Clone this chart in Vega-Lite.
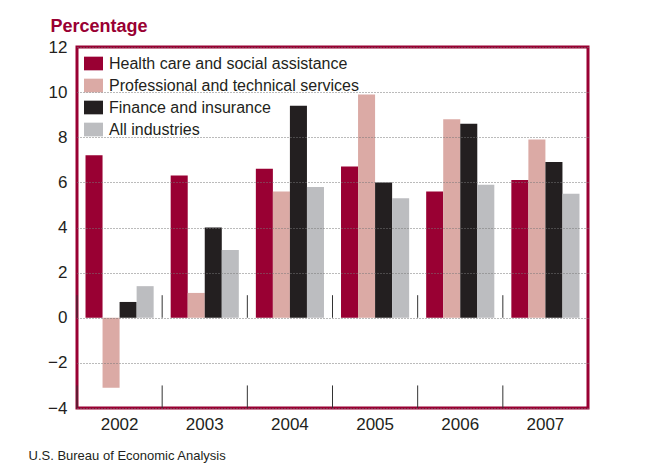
{
  "$schema": "https://vega.github.io/schema/vega-lite/v6.json",
  "width": 511,
  "height": 361,
  "autosize": {"type": "none"},
  "padding": {"left": 77, "top": 47, "right": 62, "bottom": 58},
  "background": "white",
  "config": {
    "view": {"stroke": "#990033", "strokeWidth": 3},
    "font": "Liberation Sans"
  },
  "datasets": {
    "bars": [
      {"year": "2002", "industry": "Health care and social assistance", "value": 7.2},
      {"year": "2002", "industry": "Professional and technical services", "value": -3.1},
      {"year": "2002", "industry": "Finance and insurance", "value": 0.7},
      {"year": "2002", "industry": "All industries", "value": 1.4},
      {"year": "2003", "industry": "Health care and social assistance", "value": 6.3},
      {"year": "2003", "industry": "Professional and technical services", "value": 1.1},
      {"year": "2003", "industry": "Finance and insurance", "value": 4.0},
      {"year": "2003", "industry": "All industries", "value": 3.0},
      {"year": "2004", "industry": "Health care and social assistance", "value": 6.6},
      {"year": "2004", "industry": "Professional and technical services", "value": 5.6},
      {"year": "2004", "industry": "Finance and insurance", "value": 9.4},
      {"year": "2004", "industry": "All industries", "value": 5.8},
      {"year": "2005", "industry": "Health care and social assistance", "value": 6.7},
      {"year": "2005", "industry": "Professional and technical services", "value": 9.9},
      {"year": "2005", "industry": "Finance and insurance", "value": 6.0},
      {"year": "2005", "industry": "All industries", "value": 5.3},
      {"year": "2006", "industry": "Health care and social assistance", "value": 5.6},
      {"year": "2006", "industry": "Professional and technical services", "value": 8.8},
      {"year": "2006", "industry": "Finance and insurance", "value": 8.6},
      {"year": "2006", "industry": "All industries", "value": 5.9},
      {"year": "2007", "industry": "Health care and social assistance", "value": 6.1},
      {"year": "2007", "industry": "Professional and technical services", "value": 7.9},
      {"year": "2007", "industry": "Finance and insurance", "value": 6.9},
      {"year": "2007", "industry": "All industries", "value": 5.5}
    ],
    "years": [
      {"year": "2002"}, {"year": "2003"}, {"year": "2004"},
      {"year": "2005"}, {"year": "2006"}, {"year": "2007"}
    ]
  },
  "layer": [
    {
      "data": {"name": "bars"},
      "mark": {"type": "bar"},
      "encoding": {
        "x": {
          "field": "year",
          "type": "nominal",
          "scale": {"type": "band", "paddingInner": 0, "paddingOuter": 0},
          "axis": {
            "labelAngle": 0,
            "labelFontSize": 17,
            "labelColor": "#231f20",
            "labelPadding": 8,
            "ticks": false,
            "domain": false,
            "grid": false,
            "title": "U.S. Bureau of Economic Analysis",
            "titleAnchor": "start",
            "titleAlign": "left",
            "titleX": -49,
            "titleY": 51,
            "titleBaseline": "alphabetic",
            "titleFontSize": 13,
            "titleFontWeight": "normal",
            "titleColor": "#231f20"
          }
        },
        "xOffset": {
          "field": "industry",
          "type": "nominal",
          "sort": ["Health care and social assistance", "Professional and technical services", "Finance and insurance", "All industries"],
          "scale": {"paddingInner": 0, "paddingOuter": 0.5}
        },
        "y": {
          "field": "value",
          "type": "quantitative",
          "scale": {"domain": [-4, 12], "nice": false},
          "axis": {
            "values": [-4, -2, 0, 2, 4, 6, 8, 10, 12],
            "labelFontSize": 17,
            "labelColor": "#231f20",
            "labelPadding": 10,
            "ticks": false,
            "domain": false,
            "grid": true,
            "gridDash": [1, 2],
            "gridColor": "#777777",
            "gridWidth": 1,
            "zindex": 1,
            "title": "Percentage",
            "titleAngle": 0,
            "titleAlign": "left",
            "titleBaseline": "alphabetic",
            "titleX": -27,
            "titleY": -16,
            "titleFontSize": 18,
            "titleFontWeight": "bold",
            "titleColor": "#990033"
          }
        },
        "color": {
          "field": "industry",
          "type": "nominal",
          "sort": ["Health care and social assistance", "Professional and technical services", "Finance and insurance", "All industries"],
          "scale": {
            "domain": ["Health care and social assistance", "Professional and technical services", "Finance and insurance", "All industries"],
            "range": ["#990033", "#dbaaa5", "#231f20", "#bcbdc0"]
          },
          "legend": {
            "title": null,
            "orient": "top-left",
            "offset": 7,
            "padding": 0,
            "symbolType": "M-1,-0.72H1V0.72H-1Z",
            "symbolSize": 361,
            "symbolStrokeWidth": 0,
            "symbolOpacity": 1,
            "labelFontSize": 16,
            "labelColor": "#231f20",
            "labelOffset": 6,
            "rowPadding": 4,
            "labelLimit": 400
          }
        }
      }
    },
    {
      "data": {"name": "years"},
      "mark": {"type": "rule", "color": "#333333", "strokeWidth": 1},
      "encoding": {
        "x": {"field": "year", "type": "nominal", "bandPosition": 0, "scale": {"type": "band", "paddingInner": 0, "paddingOuter": 0}},
        "y": {"datum": 0},
        "y2": {"datum": 1}
      }
    },
    {
      "data": {"name": "years"},
      "mark": {"type": "rule", "color": "#333333", "strokeWidth": 1},
      "encoding": {
        "x": {"field": "year", "type": "nominal", "bandPosition": 0, "scale": {"type": "band", "paddingInner": 0, "paddingOuter": 0}},
        "y": {"datum": -4},
        "y2": {"datum": -3}
      }
    }
  ]
}
